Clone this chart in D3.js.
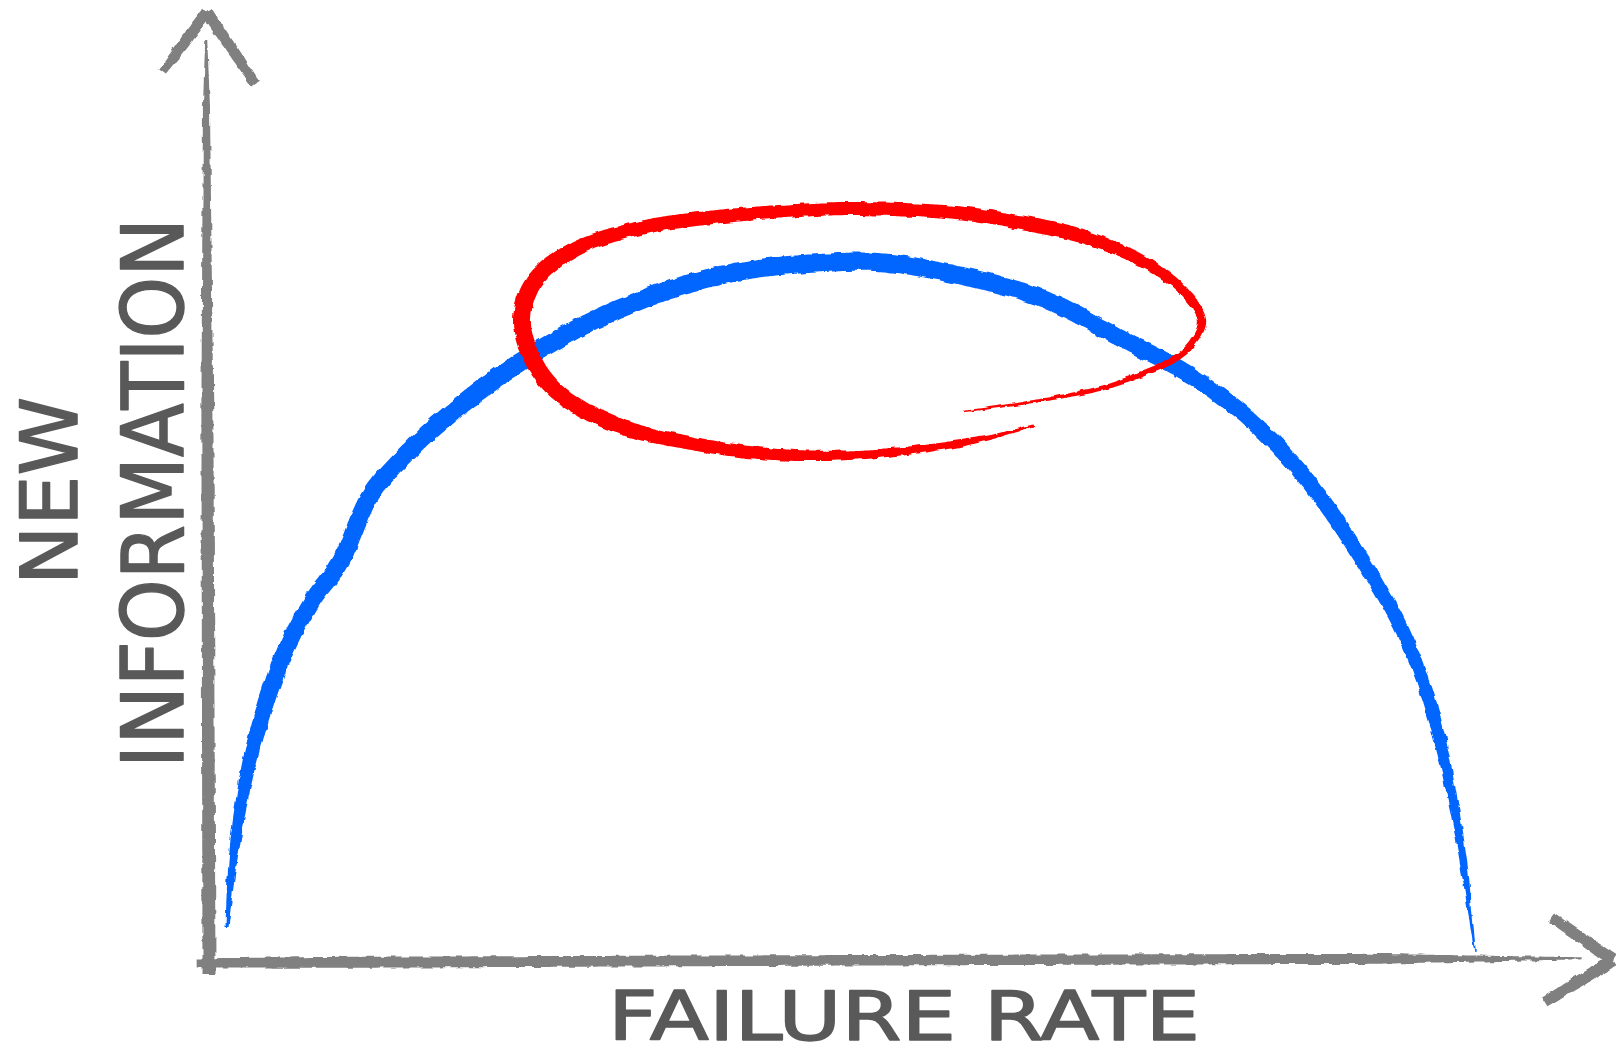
<!DOCTYPE html>
<html>
<head>
<meta charset="utf-8">
<script src="https://cdn.jsdelivr.net/npm/d3@7"></script>
<style>
  html, body { margin: 0; padding: 0; background: #fff; overflow: hidden; }
</style>
</head>
<body>
<div id="chart"></div>
<script>
// curve of new information against failure rate (both 0..100)
const blueX = [1.31, 1.75, 2.77, 4.22, 5.68, 7.57, 9.53, 11.79, 14.77, 17.76, 20.45, 25.33, 30.13, 35.0, 39.37, 44.47, 48.84, 53.2, 60.48, 66.52, 71.03, 75.55, 79.91, 84.28, 87.19, 89.08, 91.05, 92.14];
const blueY = [3.8, 11.06, 20.5, 28.4, 34.2, 39.3, 43.3, 50.7, 55.7, 59.7, 62.8, 67.5, 71.0, 73.6, 75.1, 75.8, 75.9, 74.9, 72.1, 67.5, 64.0, 59.1, 52.3, 42.8, 34.9, 27.0, 13.2, 1.1];

// red loop circling the sweet spot, in drawing order
const redX = [59.97, 56.84, 53.2, 48.11, 43.74, 39.37, 35.0, 30.13, 26.06, 23.87, 22.78, 23.58, 26.49, 31.37, 36.24, 40.83, 45.56, 50.29, 54.66, 58.3, 62.88, 66.3, 69.0, 71.03, 72.27, 71.54, 70.16, 67.76, 65.36, 62.3, 59.24, 54.88];
const redY = [58.2, 56.9, 55.9, 55.1, 54.9, 55.3, 56.3, 58.0, 61.0, 64.5, 69.3, 73.6, 77.2, 79.6, 80.7, 81.3, 81.7, 81.6, 81.2, 80.4, 79.0, 77.2, 75.1, 72.6, 69.6, 67.1, 65.3, 63.7, 62.4, 61.4, 60.6, 59.7];

// axes and arrow heads
const yShaftX = [0.0, -0.1, -0.2];
const yShaftY = [-1.4, 50, 100];
const yArrowLeftX = [-3.35, -0.15];
const yArrowLeftY = [96.6, 103.0];
const yArrowRightX = [-0.15, 3.35];
const yArrowRightY = [103.0, 95.3];
const xShaftX = [-0.9, 50, 99.9];
const xShaftY = [-0.1, 0.2, 0.4];
const xArrowUpX = [97.74, 102.2];
const xArrowUpY = [4.8, 0.2];
const xArrowDownX = [102.2, 97.2];
const xArrowDownY = [0.2, -4.4];

const xLabel = "FAILURE RATE";
const yLabel = ["NEW", "INFORMATION"];

const W = 1616, H = 1059;
const svg = d3.select("#chart").append("svg").attr("width", W).attr("height", H);

const defs = svg.append("defs");
const rough = defs.append("filter").attr("id", "rough")
  .attr("filterUnits", "userSpaceOnUse").attr("x", 0).attr("y", 0).attr("width", W).attr("height", H);
rough.append("feTurbulence").attr("type", "fractalNoise").attr("baseFrequency", 0.09)
  .attr("numOctaves", 2).attr("seed", 4).attr("result", "noise");
rough.append("feDisplacementMap").attr("in", "SourceGraphic").attr("in2", "noise")
  .attr("scale", 5).attr("xChannelSelector", "R").attr("yChannelSelector", "G");

const x = d3.scaleLinear().domain([0, 100]).range([209, 1583]);
const y = d3.scaleLinear().domain([0, 100]).range([962, 40]);

const line = d3.line().x(d => x(d[0])).y(d => y(d[1])).curve(d3.curveCatmullRom.alpha(0.5));

// lays a brush stroke of varying width along the curve through the points
function brush(xs, ys, profile, color, rough) {
  const pts = xs.map((v, i) => [v, ys[i]]);
  const guide = svg.append("path").attr("d", line(pts)).attr("fill", "none");
  const node = guide.node();
  const L = node.getTotalLength();
  const n = Math.max(8, Math.ceil(L / 2));
  const wAt = d3.scaleLinear().domain(profile.map(p => p[0])).range(profile.map(p => p[1]));
  const s = d3.range(n + 1).map(i => node.getPointAtLength(L * i / n));
  const left = [], right = [];
  s.forEach((p, i) => {
    const a = s[Math.max(0, i - 1)], b = s[Math.min(n, i + 1)];
    let dx = b.x - a.x, dy = b.y - a.y;
    const len = Math.hypot(dx, dy) || 1;
    const nx = -dy / len, ny = dx / len;
    const hw = wAt(i / n) / 2;
    left.push([p.x + nx * hw, p.y + ny * hw]);
    right.push([p.x - nx * hw, p.y - ny * hw]);
  });
  guide.remove();
  const poly = left.concat(right.reverse());
  const p = svg.append("path")
    .attr("d", "M" + poly.map(q => q[0].toFixed(1) + "," + q[1].toFixed(1)).join("L") + "Z")
    .attr("fill", color);
  if (rough) p.attr("filter", "url(#rough)");
  return p;
}

const gray = "#808080";
brush(yShaftX, yShaftY, [[0, 13], [0.6, 12], [0.93, 7], [1, 2]], gray, true);
brush(yArrowLeftX, yArrowLeftY, [[0, 9], [0.5, 11], [1, 12]], gray, true);
brush(yArrowRightX, yArrowRightY, [[0, 12], [0.5, 11], [1, 9]], gray, true);
brush(xShaftX, xShaftY, [[0, 9], [0.1, 11], [0.85, 10], [1, 2]], gray, true);
brush(xArrowUpX, xArrowUpY, [[0, 10], [0.5, 11], [1, 12]], gray, true);
brush(xArrowDownX, xArrowDownY, [[0, 12], [0.5, 12], [1, 11]], gray, true);

brush(blueX, blueY, [[0, 3], [0.04, 10], [0.1, 16], [0.3, 19], [0.55, 18], [0.75, 16], [0.88, 13], [0.96, 7], [1, 1.5]], "#0066ff", true);
brush(redX, redY, [[0, 2], [0.05, 7], [0.15, 11], [0.28, 16], [0.36, 18], [0.45, 14], [0.6, 13], [0.72, 15], [0.8, 10], [0.88, 6], [1, 1.5]], "#ff0000", true);

// labels
const labelColor = "#595959";
const font = "DejaVu Sans, sans-serif";

svg.append("text")
  .attr("x", 608).attr("y", 1040)
  .attr("textLength", 592).attr("lengthAdjust", "spacingAndGlyphs")
  .attr("font-family", font).attr("font-size", 68)
  .attr("fill", labelColor).attr("stroke", labelColor).attr("stroke-width", 1.5).attr("stroke-linejoin", "round")
  .text(xLabel);

const yl = [
  { text: yLabel[0], bx: 77, cy: 491, len: 188, size: 79 },
  { text: yLabel[1], bx: 183, cy: 493, len: 550, size: 86 }
];
yl.forEach(d => {
  svg.append("text")
    .attr("transform", `translate(${d.bx},${d.cy}) rotate(-90)`)
    .attr("text-anchor", "middle")
    .attr("textLength", d.len).attr("lengthAdjust", "spacingAndGlyphs")
    .attr("font-family", font).attr("font-size", d.size)
    .attr("fill", labelColor).attr("stroke", labelColor).attr("stroke-width", 1.5).attr("stroke-linejoin", "round")
    .text(d.text);
});
</script>
</body>
</html>
